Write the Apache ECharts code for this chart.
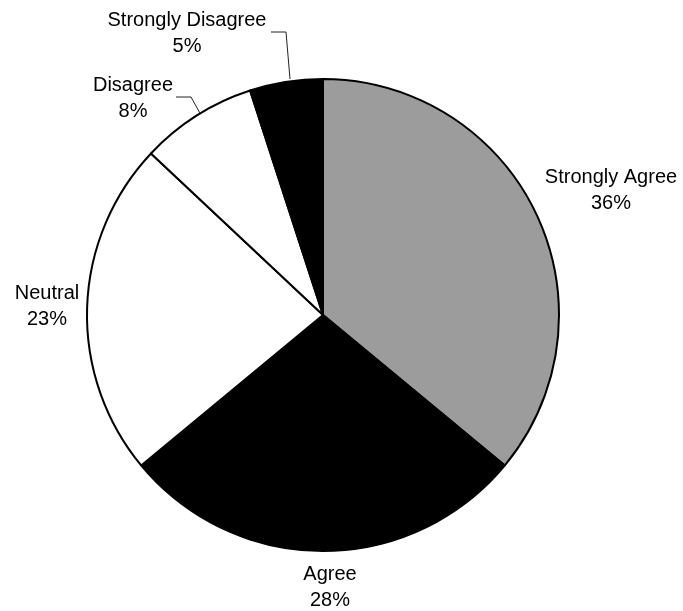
<!DOCTYPE html>
<html>
<head>
<meta charset="utf-8">
<script src="https://cdn.jsdelivr.net/npm/echarts@6/dist/echarts.min.js"></script>
<style>
  html, body { margin: 0; padding: 0; background: #fff; }
  #chart { width: 683px; height: 611px; }
</style>
</head>
<body>
<div id="chart"></div>
<script>
// survey answers, clockwise from 12 o'clock
const categories = ['Strongly Agree', 'Agree', 'Neutral', 'Disagree', 'Strongly Disagree']
const values = [36, 28, 23, 8, 5]
const fills = ['#9c9c9c', '#000000', '#ffffff', '#ffffff', '#000000']

// where each label sits (centre of the two-line text block)
const labelPos = [[611, 190], [330, 587], [47, 306], [133, 98], [187, 33]]
// leader lines for the two small slices
const leaders = {
  3: [[176, 97], [191, 97], [201, 115]],
  4: [[271, 32], [286, 32], [290, 79]]
}

const chart = echarts.init(document.getElementById('chart'))

const data = categories.map((name, i) => ({
  name,
  value: values[i],
  itemStyle: { color: fills[i] },
  labelLine: { show: !!leaders[i] }
}))

chart.setOption({
  animation: false,
  series: [
    {
      type: 'pie',
      center: [323, 315],
      radius: 236,
      startAngle: 90,
      clockwise: true,
      avoidLabelOverlap: false,
      itemStyle: { borderColor: '#000', borderWidth: 2 },
      label: {
        position: 'outside',
        formatter: (p) => `${p.name}\n${p.value}%`,
        fontFamily: 'Liberation Sans, Arial, sans-serif',
        fontSize: 20,
        lineHeight: 26,
        color: '#000',
        align: 'center'
      },
      labelLine: {
        lineStyle: { color: '#222', width: 1 }
      },
      labelLayout: (params) => {
        const i = params.dataIndex
        const out = {
          x: labelPos[i][0],
          y: labelPos[i][1],
          align: 'center',
          verticalAlign: 'middle'
        }
        if (leaders[i]) out.labelLinePoints = leaders[i]
        return out
      },
      emphasis: { disabled: true },
      data
    }
  ]
})
</script>
</body>
</html>
